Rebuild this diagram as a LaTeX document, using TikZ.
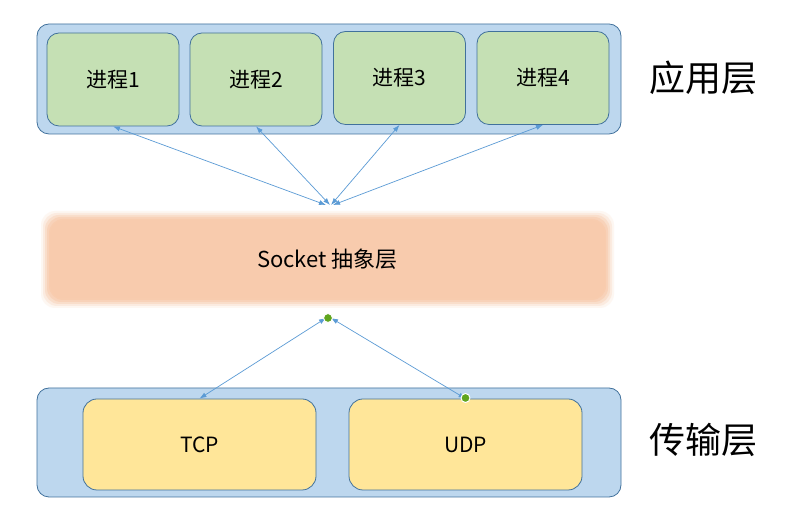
\documentclass[tikz,border=0pt]{standalone}
\usepackage{fontspec}
\setmainfont{Noto Sans CJK SC}
\usetikzlibrary{arrows.meta}
\definecolor{LayerBlue}{RGB}{189,215,238}
\definecolor{LayerEdge}{RGB}{65,113,156}
\definecolor{ProcGreen}{RGB}{197,224,180}
\definecolor{SockPeach}{RGB}{248,203,173}
\definecolor{ProtoYellow}{RGB}{255,230,153}
\definecolor{LinkBlue}{RGB}{91,155,213}
\definecolor{DotGreen}{RGB}{96,165,30}

\begin{document}
\begin{tikzpicture}[x=1bp,y=1bp,line cap=round,line join=round]
  \path[use as bounding box] (0,0) rectangle (791,518);
  \fill[white] (0,0) rectangle (791,518);

  \tikzset{
    layerbox/.style={rounded corners=12bp,line width=0.8bp,draw=LayerEdge,
      fill=LayerBlue},
    procbox/.style={rounded corners=12bp,line width=0.8bp,draw=LayerEdge,
      fill=ProcGreen,minimum width=132bp,minimum height=93bp,inner sep=0pt,
      font=\fontsize{21bp}{21bp}\selectfont},
    protobox/.style={rounded corners=14bp,line width=0.8bp,draw=LayerEdge,
      fill=ProtoYellow,minimum width=233bp,minimum height=91bp,inner sep=0pt,
      font=\fontsize{21bp}{21bp}\selectfont},
    layername/.style={inner sep=0pt,font=\fontsize{36bp}{36bp}\selectfont},
    link/.style={{Latex[length=7bp,width=5bp]}-{Latex[length=7bp,width=5bp]},
      line width=0.7bp,LinkBlue},
    joint/.style={circle,fill=DotGreen,draw=white,line width=1bp,
      minimum size=9bp,inner sep=0pt},
  }

  % Anwendungsschicht
  \draw[layerbox] (37,384) rectangle (621,494);
  \node[procbox] (proc1) at (113,438.5) {进程1};
  \node[procbox] (proc2) at (256,438.5) {进程2};
  \node[procbox] (proc3) at (399.5,440) {进程3};
  \node[procbox] (proc4) at (543,440) {进程4};
  \node[layername] (app) at (703,440) {应用层};

  % Socket
  \foreach \d/\op in {6/0.15,4/0.25,2/0.4,0/0.6,-2/0.85} {
    \fill[SockPeach,opacity=\op,rounded corners=14bp]
      ({47-\d},{216-\d}) rectangle ({608+\d},{301+\d});
  }
  \node[rounded corners=12bp,fill=SockPeach,minimum width=553bp,
    minimum height=77bp,inner sep=0pt,font=\fontsize{22bp}{22bp}\selectfont]
    (sock) at (327.5,258.5) {Socket 抽象层};

  \coordinate (in1) at (326,313);
  \coordinate (in2) at (330,313);
  \coordinate (in3) at (331,313);
  \coordinate (in4) at (333,313);
  \draw[link] (proc1.south) -- (in1);
  \draw[link] (proc2.south) -- (in2);
  \draw[link] (proc3.south) -- (in3);
  \draw[link] (proc4.south) -- (in4);

  % Transportschicht
  \draw[layerbox] (37,21) rectangle (621,130);
  \node[protobox] (tcp) at (199.5,73.5) {TCP};
  \node[protobox] (udp) at (465.5,73.5) {UDP};
  \node[layername] (trans) at (703,78) {传输层};

  \coordinate (out1) at (326,200);
  \coordinate (out2) at (331,200);
  \draw[link] (out1) -- (tcp.north);
  \draw[link] (out2) -- (udp.north);
  \node[joint] (j1) at (328,200) {};
  \node[joint] (j2) at (465.5,120) {};
\end{tikzpicture}
\end{document}
